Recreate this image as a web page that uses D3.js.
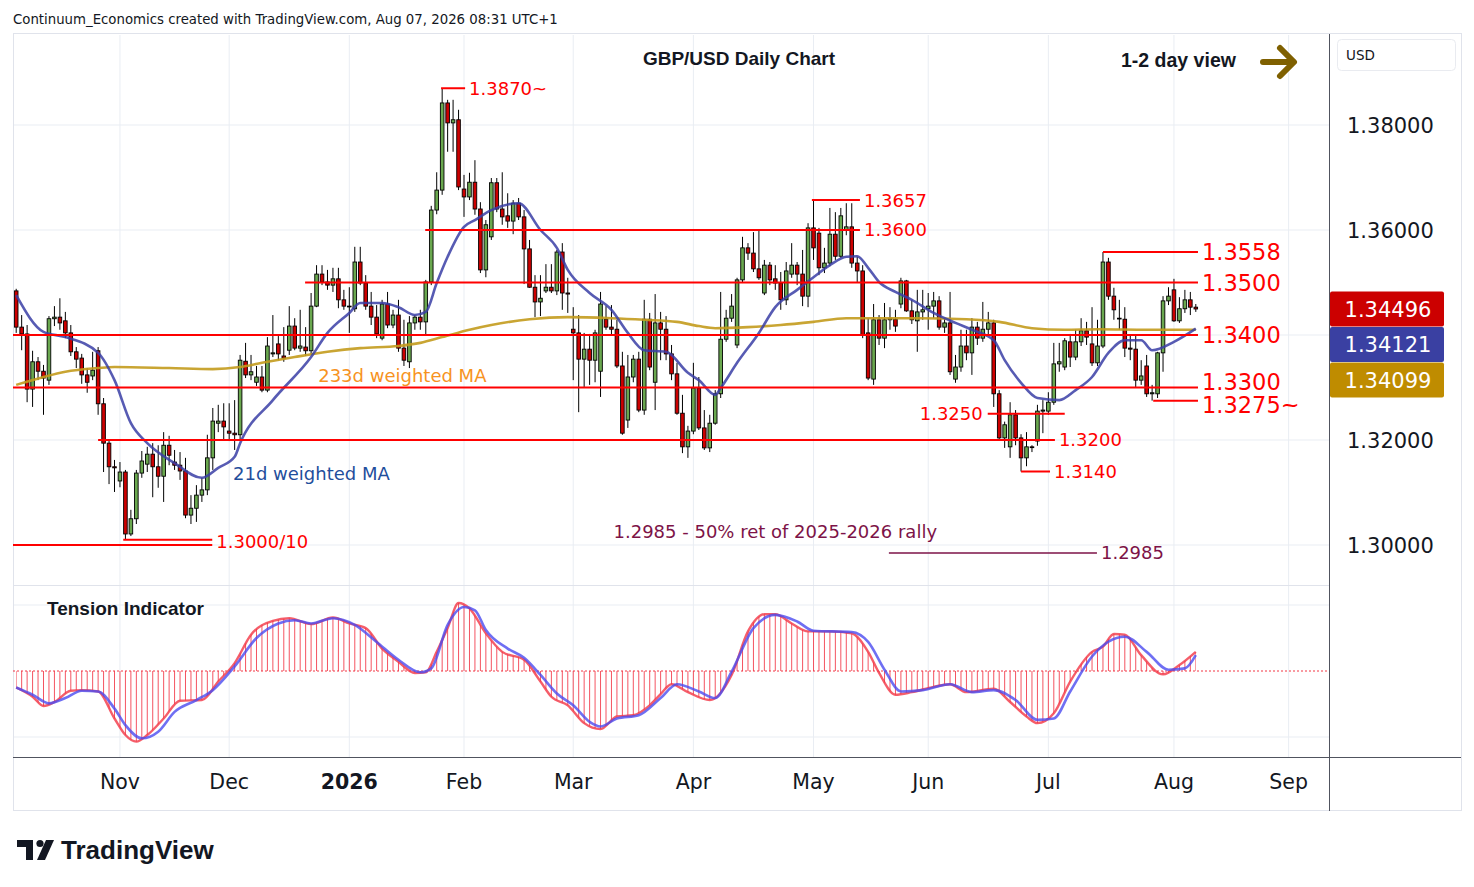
<!DOCTYPE html>
<html>
<head>
<meta charset="utf-8">
<script src="https://cdn.jsdelivr.net/npm/d3@7"></script>
<style>
  body { margin: 0; background: #fff; }
  text { font-family: "DejaVu Sans", "Liberation Sans", sans-serif; }
  .lib { font-family: "Liberation Sans", Arial, sans-serif; }
</style>
</head>
<body>
<svg id="chart" width="1474" height="887"></svg>
<script>
// Daily GBP/USD candles, [open, high, low, close], 7 Oct 2025 .. 7 Aug 2026
const ohlc = [
  [1.3484,1.3488,1.3404,1.3415],[1.3415,1.3438,1.3371,1.3402],[1.3402,1.3419,1.3272,1.3297],[1.3297,1.3370,1.3263,1.3349],
  [1.3349,1.3358,1.3314,1.3331],[1.3331,1.3343,1.3248,1.3318],[1.3314,1.3436,1.3305,1.3431],[1.3431,1.3455,1.3417,1.3434],
  [1.3434,1.3470,1.3410,1.3423],[1.3427,1.3444,1.3394,1.3404],[1.3404,1.3419,1.3360,1.3368],[1.3368,1.3377,1.3337,1.3354],
  [1.3356,1.3364,1.3307,1.3324],[1.3324,1.3337,1.3290,1.3310],[1.3322,1.3368,1.3314,1.3333],[1.3370,1.3377,1.3248,1.3269],
  [1.3269,1.3280,1.3139,1.3194],[1.3194,1.3200,1.3116,1.3149],[1.3149,1.3162,1.3101,1.3147],[1.3122,1.3158,1.3110,1.3139],
  [1.3139,1.3143,1.3010,1.3021],[1.3021,1.3067,1.3017,1.3050],[1.3050,1.3143,1.3040,1.3137],[1.3137,1.3179,1.3128,1.3160],
  [1.3154,1.3187,1.3139,1.3173],[1.3173,1.3194,1.3091,1.3149],[1.3149,1.3190,1.3109,1.3131],[1.3131,1.3215,1.3082,1.3190],
  [1.3190,1.3208,1.3152,1.3171],[1.3158,1.3181,1.3143,1.3152],[1.3152,1.3177,1.3124,1.3141],[1.3141,1.3166,1.3051,1.3057],
  [1.3057,1.3095,1.3040,1.3070],[1.3070,1.3114,1.3044,1.3095],[1.3095,1.3128,1.3082,1.3105],[1.3105,1.3210,1.3095,1.3166],
  [1.3166,1.3261,1.3143,1.3236],[1.3232,1.3267,1.3215,1.3236],[1.3236,1.3270,1.3200,1.3225],[1.3217,1.3270,1.3198,1.3213],
  [1.3213,1.3276,1.3181,1.3210],[1.3210,1.3362,1.3200,1.3352],[1.3350,1.3385,1.3318,1.3324],[1.3324,1.3362,1.3314,1.3330],
  [1.3310,1.3341,1.3303,1.3320],[1.3320,1.3341,1.3291,1.3295],[1.3295,1.3396,1.3291,1.3379],[1.3364,1.3438,1.3358,1.3366],
  [1.3383,1.3398,1.3352,1.3364],[1.3360,1.3415,1.3349,1.3356],[1.3371,1.3455,1.3362,1.3417],[1.3417,1.3432,1.3371,1.3375],
  [1.3375,1.3448,1.3368,1.3379],[1.3377,1.3415,1.3360,1.3370],[1.3370,1.3480,1.3362,1.3455],[1.3455,1.3533,1.3453,1.3516],
  [1.3516,1.3533,1.3495,1.3501],[1.3501,1.3524,1.3486,1.3495],[1.3495,1.3528,1.3482,1.3507],[1.3507,1.3528,1.3451,1.3467],
  [1.3467,1.3486,1.3448,1.3455],[1.3455,1.3491,1.3404,1.3454],[1.3450,1.3568,1.3444,1.3539],[1.3539,1.3568,1.3495,1.3499],
  [1.3499,1.3514,1.3448,1.3455],[1.3455,1.3482,1.3419,1.3434],[1.3434,1.3457,1.3394,1.3402],[1.3394,1.3467,1.3390,1.3459],
  [1.3459,1.3482,1.3413,1.3419],[1.3419,1.3448,1.3413,1.3438],[1.3438,1.3467,1.3368,1.3375],[1.3375,1.3429,1.3341,1.3352],
  [1.3349,1.3436,1.3337,1.3423],[1.3423,1.3438,1.3410,1.3434],[1.3434,1.3448,1.3410,1.3425],[1.3425,1.3505,1.3400,1.3501],
  [1.3501,1.3646,1.3495,1.3638],[1.3638,1.3710,1.3630,1.3676],[1.3676,1.3870,1.3667,1.3842],[1.3842,1.3848,1.3749,1.3804],
  [1.3804,1.3848,1.3749,1.3810],[1.3810,1.3829,1.3676,1.3682],[1.3678,1.3705,1.3625,1.3663],[1.3663,1.3709,1.3657,1.3691],
  [1.3691,1.3733,1.3629,1.3640],[1.3640,1.3653,1.3518,1.3524],[1.3524,1.3619,1.3510,1.3610],[1.3587,1.3699,1.3581,1.3690],
  [1.3690,1.3699,1.3634,1.3640],[1.3640,1.3710,1.3610,1.3625],[1.3627,1.3670,1.3604,1.3617],[1.3617,1.3657,1.3592,1.3651],
  [1.3651,1.3661,1.3619,1.3625],[1.3625,1.3638,1.3497,1.3564],[1.3564,1.3581,1.3490,1.3491],[1.3491,1.3514,1.3434,1.3463],
  [1.3463,1.3514,1.3436,1.3470],[1.3484,1.3535,1.3480,1.3491],[1.3491,1.3535,1.3480,1.3484],[1.3484,1.3562,1.3476,1.3558],
  [1.3558,1.3575,1.3448,1.3480],[1.3480,1.3509,1.3442,1.3478],[1.3411,1.3453,1.3314,1.3404],[1.3404,1.3438,1.3253,1.3354],
  [1.3354,1.3404,1.3301,1.3373],[1.3373,1.3402,1.3305,1.3352],[1.3352,1.3410,1.3310,1.3404],[1.3331,1.3482,1.3282,1.3459],
  [1.3430,1.3455,1.3410,1.3415],[1.3415,1.3457,1.3400,1.3411],[1.3411,1.3429,1.3337,1.3341],[1.3341,1.3368,1.3210,1.3213],
  [1.3238,1.3362,1.3223,1.3320],[1.3320,1.3362,1.3310,1.3354],[1.3354,1.3368,1.3253,1.3257],[1.3257,1.3467,1.3248,1.3430],
  [1.3430,1.3442,1.3333,1.3339],[1.3310,1.3478,1.3257,1.3423],[1.3423,1.3444,1.3352,1.3411],[1.3411,1.3436,1.3352,1.3364],
  [1.3364,1.3381,1.3314,1.3326],[1.3326,1.3347,1.3248,1.3251],[1.3251,1.3286,1.3175,1.3187],[1.3187,1.3227,1.3166,1.3217],
  [1.3217,1.3347,1.3211,1.3299],[1.3299,1.3320,1.3219,1.3223],[1.3223,1.3257,1.3181,1.3185],[1.3185,1.3248,1.3177,1.3232],
  [1.3232,1.3295,1.3229,1.3288],[1.3288,1.3482,1.3280,1.3392],[1.3392,1.3448,1.3387,1.3432],[1.3432,1.3478,1.3425,1.3455],
  [1.3381,1.3509,1.3375,1.3505],[1.3505,1.3587,1.3499,1.3566],[1.3566,1.3575,1.3543,1.3556],[1.3556,1.3596,1.3520,1.3526],
  [1.3526,1.3600,1.3505,1.3509],[1.3480,1.3543,1.3476,1.3533],[1.3533,1.3539,1.3495,1.3505],[1.3507,1.3533,1.3486,1.3499],
  [1.3499,1.3520,1.3448,1.3467],[1.3467,1.3539,1.3457,1.3522],[1.3516,1.3575,1.3509,1.3533],[1.3533,1.3539,1.3495,1.3516],
  [1.3516,1.3562,1.3455,1.3474],[1.3474,1.3613,1.3453,1.3604],[1.3604,1.3657,1.3543,1.3566],[1.3594,1.3604,1.3514,1.3528],
  [1.3528,1.3566,1.3518,1.3537],[1.3537,1.3642,1.3531,1.3592],[1.3592,1.3634,1.3543,1.3550],[1.3550,1.3642,1.3547,1.3627],
  [1.3600,1.3651,1.3590,1.3606],[1.3606,1.3651,1.3528,1.3537],[1.3537,1.3549,1.3501,1.3522],[1.3522,1.3533,1.3394,1.3400],
  [1.3404,1.3432,1.3314,1.3318],[1.3316,1.3459,1.3305,1.3429],[1.3429,1.3438,1.3381,1.3394],[1.3394,1.3461,1.3375,1.3429],
  [1.3429,1.3453,1.3410,1.3432],[1.3430,1.3448,1.3406,1.3417],[1.3459,1.3509,1.3451,1.3503],[1.3503,1.3505,1.3444,1.3446],
  [1.3446,1.3467,1.3421,1.3429],[1.3427,1.3486,1.3368,1.3444],[1.3444,1.3486,1.3429,1.3448],[1.3450,1.3480,1.3410,1.3455],
  [1.3455,1.3482,1.3432,1.3465],[1.3465,1.3474,1.3410,1.3415],[1.3415,1.3432,1.3404,1.3423],[1.3423,1.3482,1.3324,1.3330],
  [1.3316,1.3362,1.3309,1.3339],[1.3339,1.3410,1.3330,1.3379],[1.3379,1.3410,1.3352,1.3366],[1.3366,1.3432,1.3324,1.3415],
  [1.3415,1.3425,1.3381,1.3394],[1.3394,1.3463,1.3387,1.3411],[1.3411,1.3444,1.3400,1.3423],[1.3423,1.3429,1.3263,1.3288],
  [1.3288,1.3295,1.3200,1.3204],[1.3204,1.3235,1.3185,1.3229],[1.3187,1.3272,1.3166,1.3248],[1.3248,1.3257,1.3190,1.3204],
  [1.3204,1.3211,1.3140,1.3166],[1.3166,1.3215,1.3150,1.3187],[1.3187,1.3190,1.3177,1.3186],[1.3198,1.3267,1.3189,1.3255],
  [1.3255,1.3276,1.3213,1.3257],[1.3255,1.3291,1.3248,1.3272],[1.3272,1.3385,1.3267,1.3345],[1.3345,1.3385,1.3330,1.3349],
  [1.3339,1.3394,1.3333,1.3389],[1.3387,1.3402,1.3339,1.3358],[1.3358,1.3410,1.3352,1.3387],[1.3387,1.3432,1.3379,1.3408],
  [1.3408,1.3425,1.3381,1.3396],[1.3383,1.3453,1.3341,1.3347],[1.3347,1.3429,1.3341,1.3379],[1.3379,1.3558,1.3375,1.3539],
  [1.3539,1.3547,1.3467,1.3474],[1.3474,1.3490,1.3429,1.3448],[1.3432,1.3467,1.3410,1.3431],[1.3430,1.3453,1.3358,1.3375],
  [1.3375,1.3400,1.3352,1.3373],[1.3373,1.3400,1.3299,1.3314],[1.3314,1.3352,1.3305,1.3322],[1.3341,1.3362,1.3282,1.3288],
  [1.3288,1.3305,1.3275,1.3290],[1.3288,1.3368,1.3280,1.3366],[1.3366,1.3474,1.3330,1.3465],[1.3465,1.3491,1.3457,1.3474],
  [1.3486,1.3507,1.3425,1.3427],[1.3427,1.3472,1.3423,1.3450],[1.3450,1.3486,1.3442,1.3467],[1.3467,1.3482,1.3438,1.3453],
  [1.3453,1.3459,1.3444,1.34496]
];

// moving averages, [bar, value]
const ma21 = [[0,1.3476],[5,1.3406],[9,1.3396],[15,1.3366],[18,1.3314],[21,1.3232],[24,1.3194],[29,1.3156],[34,1.3128],
  [37,1.3147],[40,1.3168],[41,1.3194],[47,1.3276],[54,1.3358],[57,1.3404],[61,1.3442],[63,1.3461],[67,1.3461],[70,1.3453],
  [73,1.3438],[75,1.3444],[77,1.3499],[79,1.3549],[82,1.3606],[84,1.3619],[87,1.3638],[92,1.3651],[96,1.3600],[99,1.3566],
  [101,1.3524],[105,1.3480],[109,1.3448],[112,1.3404],[115,1.3371],[119,1.3368],[123,1.3328],[125,1.3314],[128,1.3286],
  [129,1.3299],[132,1.3347],[136,1.3404],[139,1.3453],[143,1.3486],[146,1.3510],[149,1.3533],[152,1.3549],[154,1.3550],
  [156,1.3528],[158,1.3501],[161,1.3482],[164,1.3467],[168,1.3442],[172,1.3423],[175,1.3410],[179,1.3390],[181,1.3352],
  [184,1.3309],[187,1.3280],[191,1.3276],[194,1.3295],[197,1.3320],[200,1.3366],[203,1.3390],[206,1.3390],[208,1.3371],
  [212,1.3387],[216,1.34121]];
const ma233 = [[0,1.3305],[5,1.3320],[9,1.3330],[15,1.3337],[18,1.3339],[28,1.3337],[36,1.3335],[41,1.3339],[45,1.3347],
  [51,1.3358],[57,1.3368],[63,1.3375],[70,1.3379],[74,1.3385],[78,1.3396],[83,1.3410],[87,1.3419],[94,1.3430],[101,1.3434],
  [109,1.3432],[115,1.3429],[121,1.3425],[125,1.3417],[128,1.3413],[134,1.3415],[140,1.3419],[146,1.3425],[152,1.3432],
  [158,1.3432],[165,1.3432],[174,1.3430],[180,1.3425],[186,1.3413],[192,1.3410],[198,1.3411],[207,1.3410],[216,1.34099]];

// tension indicator, [bar, value]
const tensionFast = [[0,-0.25],[3,-0.39],[5,-0.53],[7,-0.47],[10,-0.30],[12,-0.29],[15,-0.31],[18,-0.72],[20,-0.97],
  [22,-1.07],[24,-0.97],[27,-0.72],[30,-0.45],[34,-0.44],[37,-0.16],[40,0.12],[43,0.55],[47,0.76],[50,0.80],[54,0.71],
  [58,0.81],[61,0.72],[64,0.65],[67,0.34],[70,0.14],[73,-0.03],[75,-0.02],[77,0.29],[79,0.65],[81,1.03],[83,0.95],
  [86,0.57],[89,0.29],[93,0.17],[96,-0.16],[98,-0.39],[101,-0.52],[104,-0.79],[107,-0.88],[110,-0.69],[113,-0.67],
  [116,-0.52],[118,-0.35],[120,-0.20],[123,-0.32],[127,-0.44],[131,-0.06],[134,0.60],[137,0.86],[139,0.86],[142,0.72],
  [145,0.60],[149,0.60],[153,0.57],[156,0.29],[158,-0.03],[161,-0.36],[164,-0.32],[168,-0.24],[171,-0.20],[174,-0.32],
  [179,-0.27],[182,-0.47],[185,-0.69],[187,-0.79],[190,-0.64],[193,-0.16],[197,0.29],[199,0.37],[201,0.56],[203,0.55],
  [206,0.24],[210,-0.05],[213,0.09],[216,0.29]];
const tensionSlow = [[0,-0.25],[3,-0.36],[6,-0.49],[9,-0.41],[12,-0.30],[15,-0.31],[18,-0.57],[20,-0.82],[23,-1.02],
  [26,-0.92],[29,-0.62],[33,-0.44],[36,-0.29],[40,0.07],[44,0.50],[48,0.72],[51,0.77],[54,0.72],[58,0.80],[62,0.70],
  [66,0.44],[70,0.17],[74,-0.02],[76,0.04],[79,0.70],[82,0.97],[84,0.92],[86,0.62],[90,0.34],[93,0.20],[96,-0.06],
  [99,-0.34],[102,-0.52],[105,-0.77],[107,-0.84],[110,-0.72],[114,-0.67],[118,-0.41],[121,-0.20],[125,-0.31],[128,-0.41],
  [131,-0.01],[135,0.65],[139,0.85],[143,0.75],[146,0.61],[153,0.59],[156,0.44],[159,0.02],[162,-0.31],[166,-0.29],
  [171,-0.20],[175,-0.32],[179,-0.29],[183,-0.44],[187,-0.74],[190,-0.72],[193,-0.31],[197,0.22],[203,0.52],[207,0.29],
  [211,0.02],[214,0.04],[216,0.24]];

// time axis
const monthLabels = ["Nov", "Dec", "2026", "Feb", "Mar", "Apr", "May", "Jun", "Jul", "Aug", "Sep"];
const monthBars = [19, 39, 61, 82, 102, 124, 146, 167, 189, 212, 233];
const priceTicks = [1.30, 1.32, 1.34, 1.36, 1.38];

// drawn levels: price, label, first bar, last bar
const levelPrices = [1.3870, 1.3657, 1.3600, 1.3558, 1.3500, 1.3400, 1.3300, 1.3275, 1.3250, 1.3200, 1.3140, 1.3010, 1.3000, 1.2985];
const levelTexts = ["1.3870~", "1.3657", "1.3600", "1.3558", "1.3500", "1.3400", "1.3300", "1.3275~", "1.3250", "1.3200", "1.3140", "1.3000/10", "", "1.2985"];
const levelFrom = [77.8, 145.7, 74.9, 199, 52.9, -0.6, -0.6, 208.2, 177.9, 15, 184, 19.6, -0.6, 159.8];
const levelTo = [82.2, 154.5, 154.5, 216.4, 216.4, 216.4, 216.4, 216.4, 192, 190.2, 189.3, 35.9, 35.9, 197.9];

// free notes: text, bar, price
const noteTexts = ["1.2985 - 50% ret of 2025-2026 rally", "233d weighted MA", "21d weighted MA"];
const noteBars = [139, 55.3, 39.7];
const notePrices = [1.3025, 1.3322, 1.3137];

const W = 1474, H = 887;
const left = 13, right = 1329, frameRight = 1461;
const mainTop = 35, mainBottom = 585, indBottom = 757, axisBottom = 811;

const RED = "#ff0000", MAROON = "#7d1347", GREEN_C = "#6aa84f", RED_C = "#cc0000";
const BLUE_MA = "#3a3ea6", GOLD_MA = "#c39b1d", TEXT = "#131722", GRID = "#e9edf3";

const svg = d3.select("#chart");
svg.append("rect").attr("width", W).attr("height", H).attr("fill", "#fff");

const x = d3.scaleLinear().domain([0, 216]).range([16.2, 1195.8]);
const y = d3.scaleLinear().domain([1.30, 1.38]).range([545, 125]);
const yi = d3.scaleLinear().domain([-1, 1]).range([737, 605]);

const defs = svg.append("defs");
defs.append("clipPath").attr("id", "clip-main")
  .append("rect").attr("x", left).attr("y", mainTop).attr("width", right - left).attr("height", mainBottom - mainTop);
defs.append("clipPath").attr("id", "clip-ind")
  .append("rect").attr("x", left).attr("y", mainBottom + 1).attr("width", right - left).attr("height", indBottom - mainBottom - 1);

// header
svg.append("text").attr("x", 13).attr("y", 24).attr("font-size", 13.3).attr("fill", TEXT)
  .text("Continuum_Economics created with TradingView.com, Aug 07, 2026 08:31 UTC+1");

// grid
const grid = svg.append("g");
grid.selectAll(".vgrid").data(monthBars).join("line")
  .attr("x1", d => x(d)).attr("x2", d => x(d)).attr("y1", mainTop).attr("y2", indBottom)
  .attr("stroke", GRID).attr("stroke-width", 1);
grid.selectAll(".hgrid").data(priceTicks).join("line")
  .attr("x1", left).attr("x2", right).attr("y1", d => y(d)).attr("y2", d => y(d))
  .attr("stroke", GRID).attr("stroke-width", 1);
grid.selectAll(".igrid").data([-1, 1]).join("line")
  .attr("x1", left).attr("x2", right).attr("y1", d => yi(d)).attr("y2", d => yi(d))
  .attr("stroke", GRID).attr("stroke-width", 1);

// frame
svg.append("rect").attr("x", left + 0.5).attr("y", mainTop - 1.5).attr("width", frameRight - left)
  .attr("height", axisBottom - mainTop + 1).attr("fill", "none").attr("stroke", "#e0e3eb");
svg.append("line").attr("x1", left).attr("x2", right).attr("y1", mainBottom + 0.5).attr("y2", mainBottom + 0.5)
  .attr("stroke", "#e0e3eb");
svg.append("line").attr("x1", left).attr("x2", frameRight).attr("y1", indBottom + 0.5).attr("y2", indBottom + 0.5)
  .attr("stroke", "#50535e");
svg.append("line").attr("x1", right + 0.5).attr("x2", right + 0.5).attr("y1", mainTop - 1).attr("y2", axisBottom)
  .attr("stroke", "#50535e");

// main pane
const main = svg.append("g").attr("clip-path", "url(#clip-main)");

const candle = main.selectAll(".candle").data(ohlc).join("g").attr("class", "candle");
candle.append("line")
  .attr("x1", (d, i) => x(i)).attr("x2", (d, i) => x(i))
  .attr("y1", d => y(d[1])).attr("y2", d => y(d[2]))
  .attr("stroke", "#000").attr("stroke-width", 1);
candle.append("rect")
  .attr("x", (d, i) => x(i) - 1.8).attr("width", 3.6)
  .attr("y", d => y(Math.max(d[0], d[3])))
  .attr("height", d => Math.max(0.8, Math.abs(y(d[0]) - y(d[3]))))
  .attr("fill", d => d[3] >= d[0] ? GREEN_C : RED_C)
  .attr("stroke", "#000").attr("stroke-width", 0.9);

const maLine = d3.line().x(d => x(d[0])).y(d => y(d[1])).curve(d3.curveMonotoneX);
main.append("path").datum(ma233).attr("d", maLine).attr("fill", "none")
  .attr("stroke", GOLD_MA).attr("stroke-width", 2.6).attr("stroke-opacity", 0.9);
main.append("path").datum(ma21).attr("d", maLine).attr("fill", "none")
  .attr("stroke", BLUE_MA).attr("stroke-width", 2.6).attr("stroke-opacity", 0.85);

// levels
const levels = levelPrices.map((p, i) => ({ price: p, text: levelTexts[i], from: levelFrom[i], to: levelTo[i] }));
const labelStyle = { "1.3250": { anchor: "end" }, "1.3300": { dy: -6 }, "1.3275~": { dy: 4 }, "1.3000/10": { dy: 2 } };
const lv = svg.append("g");
lv.selectAll("line").data(levels).join("line")
  .attr("x1", d => Math.max(left, x(d.from))).attr("x2", d => x(d.to))
  .attr("y1", d => y(d.price)).attr("y2", d => y(d.price))
  .attr("stroke", d => d.price < 1.3 ? MAROON : RED).attr("stroke-width", d => d.price < 1.3 ? 1.5 : 2);
lv.selectAll("text").data(levels.filter(d => d.text)).join("text")
  .attr("x", d => (labelStyle[d.text] || {}).anchor === "end" ? x(d.from) - 5 : x(d.to) + 4)
  .attr("y", d => y(d.price) + ((labelStyle[d.text] || {}).dy || 0))
  .attr("dy", "0.36em")
  .attr("text-anchor", d => (labelStyle[d.text] || {}).anchor || "start")
  .attr("font-size", d => d.to > 210 ? 22.5 : 18)
  .attr("fill", d => d.price < 1.3 ? MAROON : RED)
  .text(d => d.text);

// notes
const noteColors = [MAROON, "#f7931e", "#1f4e9c"];
svg.selectAll(".note").data(noteTexts).join("text")
  .attr("x", (d, i) => x(noteBars[i])).attr("y", (d, i) => y(notePrices[i])).attr("dy", "0.36em")
  .attr("text-anchor", (d, i) => i === 0 ? "middle" : "start")
  .attr("font-size", 18).attr("fill", (d, i) => noteColors[i]).text(d => d);

// title, view arrow
svg.append("text").attr("class", "lib").attr("x", 739).attr("y", 65).attr("text-anchor", "middle")
  .attr("font-size", 19).attr("font-weight", "bold").attr("fill", TEXT).text("GBP/USD Daily Chart");
svg.append("text").attr("class", "lib").attr("x", 1121).attr("y", 67)
  .attr("font-size", 19.5).attr("font-weight", "bold").attr("fill", TEXT).text("1-2 day view");
const arrow = svg.append("g").attr("stroke", "#7f6000").attr("stroke-width", 6)
  .attr("stroke-linecap", "round").attr("stroke-linejoin", "round").attr("fill", "none");
arrow.append("line").attr("x1", 1263).attr("x2", 1293).attr("y1", 62).attr("y2", 62);
arrow.append("polyline").attr("points", "1280,48 1294,62 1280,76");

// indicator pane
const ind = svg.append("g").attr("clip-path", "url(#clip-ind)");
const fastArea = d3.area().x(d => x(d[0])).y0(yi(0)).y1(d => yi(d[1])).curve(d3.curveMonotoneX);
defs.append("clipPath").attr("id", "clip-hist").append("path").datum(tensionFast).attr("d", fastArea);
ind.append("g").attr("clip-path", "url(#clip-hist)")
  .selectAll("line").data(ohlc).join("line")
  .attr("x1", (d, i) => x(i)).attr("x2", (d, i) => x(i))
  .attr("y1", yi(-1.3)).attr("y2", yi(1.3))
  .attr("stroke", "#f23645").attr("stroke-opacity", 0.85).attr("stroke-width", 1);
ind.append("line").attr("x1", left).attr("x2", right).attr("y1", yi(0)).attr("y2", yi(0))
  .attr("stroke", "#f23645").attr("stroke-width", 1).attr("stroke-dasharray", "2,2");
const indLine = d3.line().x(d => x(d[0])).y(d => yi(d[1])).curve(d3.curveMonotoneX);
ind.append("path").datum(tensionFast).attr("d", indLine).attr("fill", "none")
  .attr("stroke", "#f23645").attr("stroke-width", 2.4).attr("stroke-opacity", 0.8);
ind.append("path").datum(tensionSlow).attr("d", indLine).attr("fill", "none")
  .attr("stroke", "#4b4bf0").attr("stroke-width", 2.6).attr("stroke-opacity", 0.8);
svg.append("text").attr("class", "lib").attr("x", 47).attr("y", 615).attr("font-size", 19).attr("font-weight", "bold")
  .attr("fill", TEXT).text("Tension Indicator");

// time axis
svg.selectAll(".month").data(monthLabels).join("text")
  .attr("x", (d, i) => x(monthBars[i])).attr("y", 789).attr("text-anchor", "middle")
  .attr("font-size", 20.5).attr("font-weight", d => d === "2026" ? "bold" : "normal")
  .attr("fill", TEXT).text(d => d);

// price axis: tags first, ticks that collide are hidden
const last = ohlc[ohlc.length - 1];
const tags = [
  { v: last[3], color: "#cc0000" },
  { v: ma21[ma21.length - 1][1], color: "#3a40a2" },
  { v: ma233[ma233.length - 1][1], color: "#bf8c00" }
].map(t => ({ ...t, y: y(t.v) })).sort((a, b) => a.y - b.y);
for (let i = 1; i < tags.length; i++) tags[i].y = Math.max(tags[i].y, tags[i - 1].y + 35.5);

const fmt = d3.format(".5f");
svg.selectAll(".ptick").data(priceTicks.filter(p => tags.every(t => Math.abs(t.y - y(p)) > 30))).join("text")
  .attr("x", 1347).attr("y", d => y(d)).attr("dy", "0.36em").attr("font-size", 21).attr("fill", TEXT)
  .text(d => fmt(d));

const tag = svg.selectAll(".tag").data(tags).join("g");
tag.append("rect").attr("x", right + 1).attr("y", d => d.y - 17.5).attr("width", 114).attr("height", 35)
  .attr("rx", 2).attr("fill", d => d.color);
tag.append("text").attr("x", 1388).attr("y", d => d.y).attr("dy", "0.36em").attr("text-anchor", "middle")
  .attr("font-size", 21).attr("fill", "#fff").text(d => fmt(d.v));

svg.append("rect").attr("x", 1337.5).attr("y", 39.5).attr("width", 118).attr("height", 31).attr("rx", 4)
  .attr("fill", "#fff").attr("stroke", "#e9ebf0");
svg.append("text").attr("x", 1346).attr("y", 60).attr("font-size", 13.5).attr("fill", TEXT).text("USD");

// TradingView mark
const logo = svg.append("g").attr("fill", TEXT);
logo.append("path").attr("d", "M17,840 H33 V860 H26 V847 H17 Z");
logo.append("circle").attr("cx", 40).attr("cy", 843.5).attr("r", 3.6);
logo.append("path").attr("d", "M46,840 H54 L45,860 H37 Z");
logo.append("text").attr("class", "lib").attr("x", 61).attr("y", 859).attr("font-size", 26).attr("font-weight", "bold").text("TradingView");
</script>
</body>
</html>
